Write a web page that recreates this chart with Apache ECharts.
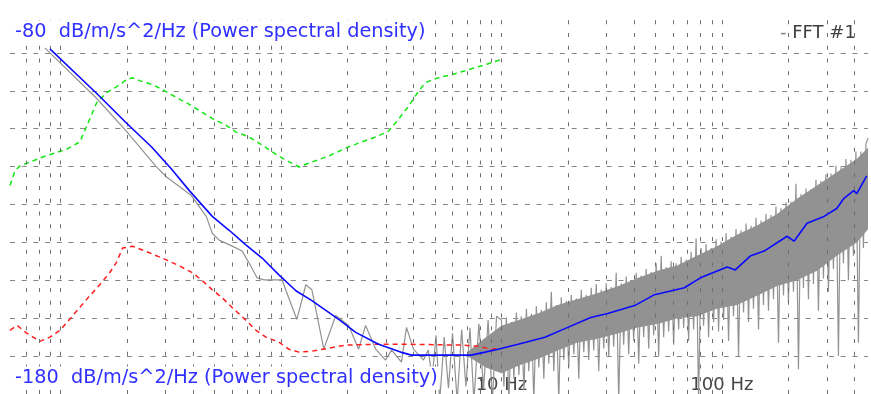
<!DOCTYPE html>
<html><head><meta charset="utf-8">
<script src="https://cdn.jsdelivr.net/npm/echarts@6/dist/echarts.min.js"></script>
<style>html,body{margin:0;padding:0;background:#fff;overflow:hidden}#c{width:871px;height:394px}</style>
</head><body><div id="c"></div>
<script>
// ---- axes / texts ----
const gridFreqs = [0.07,0.08,0.09,0.1,0.2,0.3,0.4,0.5,0.6,0.7,0.8,0.9,1,2,3,4,5,6,7,8,9,10,20,30,40,50,60,70,80,90,100,200,300,400];
const xTickValues = [10, 100];
const xTickLabels = ['10 Hz', '100 Hz'];
const xMin = 0.059, xMax = 460;
const yMin = -180, yMax = -80, yStep = 10;
const yUnit = 'dB/m/s^2/Hz (Power spectral density)';
const seriesName = 'FFT #1';

// ---- FFT #1 (grey) ----
const fftFreq = [
0.0849,0.146,0.1952,0.2723,0.302,0.392,0.4582,0.488,0.5246,0.601,0.6664,0.717,0.779,0.838,1.01,
1.181,1.297,1.381,1.564,1.772,2.028,2.25,2.42,2.69,2.98,3.175,3.52,3.71,3.99,4.43,
4.66,4.85,5.05,5.25,5.5,5.75,6.0,6.3,6.6,6.9,7.2,7.5,7.9,8.3,8.7,9.1,9.5,
10,10.26,10.53,10.81,11.1,11.39,11.69,12.0,12.3,12.65,
12.98,13.3,13.67,14.03,14.4,14.78,15.17,15.57,15.98,16.4,
16.84,17.28,17.74,18.2,18.68,19.18,19.68,20.2,20.74,21.29,
21.85,22.43,23.02,23.63,24.25,24.89,25.55,26.22,26.92,27.63,
28.36,29.11,29.88,30.67,31.48,32.31,33.16,34.04,34.94,35.86,
36.81,37.78,38.78,39.8,40.86,41.94,43.04,44.18,45.35,46.55,
47.78,49.04,50.34,51.67,53.03,54.43,55.87,57.35,58.86,60.42,
62.01,63.65,65.33,67.06,68.83,70.65,72.51,74.43,76.4,78.41,
80.48,82.61,84.79,87.03,89.33,91.69,94.11,96.6,99.15,101.8,
104.5,107.2,110.0,112.9,115.9,119.0,122.1,125.4,128.7,132.1,
135.6,139.1,142.8,146.6,150.5,154.4,158.5,162.7,167.0,171.4,
175.9,180.6,185.4,190.3,195.3,200.4,205.7,211.2,216.8,222.5,
228.4,234.4,240.6,247.0,253.5,260.2,267.1,274.2,281.4,288.8,
296.5,304.3,312.4,320.6,329.1,337.8,346.7,355.9,365.3,375.0,
384.9,395.1,405.5,416.2,427.2,438.5,450.1,460];
const fftDb = [
-88.69,-102.03,-110.13,-120.06,-122.68,-127.65,-133.14,-137.58,-139.41,-140.98,-142.29,-145.43,-149.35,-149.87,-149.87,
-160.33,-151.18,-152.48,-168.17,-159.28,-161.9,-168.17,-161.9,-168.17,-171.05,-168.43,-171.57,-162.42,-168.17,-171.05,
-168.4,-176,-164.5,-182,-165,-178.5,-164,-182,-163,-178,-162.5,-182,-161.5,-178.5,-160.5,-182,-159.5,
-160.5,-178,-159.8,-182,-161,-176,-158.5,-175,-159.5,-179,
-157.5,-174,-158.8,-182,-156.8,-173,-157.8,-176,-155.8,-172,
-153,-174,-156.5,-182,-154.5,-171,-155.5,-173,-153.8,-169.5,
-154.8,-176,-152.5,-169,-153.8,-171,-152,-168.5,-151,-174,
-152.5,-168,-150.8,-170,-151.8,-167.5,-148,-182,-150.8,-167,
-149,-169.5,-150,-166,-148,-172,-148.8,-165,-147,-168,
-147.8,-164.5,-145.5,-170,-143.5,-165,-146.5,-163.5,-145,-167,
-145.5,-163,-143.8,-162.5,-144.5,-166,-142.5,-163,-139,-182,
-141.5,-162,-140.5,-165,-141.5,-161,-139.2,-163.5,-139.8,-160.5,
-137.5,-166,-138.5,-159.5,-136.5,-170,-136.8,-158.5,-135,-161,
-135.6,-157.5,-133.5,-163,-134.2,-156.5,-132.5,-158,-132.8,-155,
-130.5,-166.5,-131,-154,-129.5,-156,-129.2,-153,-124.5,-173.5,
-127.2,-152,-125.8,-155,-126,-151,-123.5,-158,-123.8,-149.5,
-122,-153,-121.8,-147,-119.8,-170,-120.2,-145.5,-118,-150,
-118.2,-143.5,-116,-166.5,-116,-141.5,-114,-112.5];

// core of the noisy band (grey fill)
const bandFreq = [7.0,8.5,10,12,15,18,22,27,34,41,51,63,77,95,117,145,178,219,270,332,409,460];
const bandTop = [-169,-165,-162,-160.5,-158.5,-156.5,-155,-153.5,-151.5,-149.5,-147.5,-146,-143.5,-141,-138,-135.5,-132.5,-128.5,-125,-121.5,-118,-115];
const bandLow = [-170,-173,-174.5,-172.5,-170.5,-168.5,-166.5,-165.5,-164,-162.5,-161.5,-160,-159.5,-157.5,-156.5,-154,-151.5,-150,-147.5,-143.5,-140,-136.5];

// ---- averaged spectrum (blue) ----
const avgFreq = [0.0895,0.146,0.1995,0.259,0.318,0.384,0.488,0.582,0.695,0.821,0.979,1.169,1.381,1.828,2.183,2.772,3.486,3.909,5.176,7.296,8.44,9.66,11.9,15.75,20.0,25.4,30.3,40.2,49.5,67.6,79.9,105.7,115.0,134.4,155.5,197.6,212.5,243.3,290.4,332,357,396,409,454];
const avgDb = [-88.95,-100.72,-108.56,-114.84,-120.59,-126.34,-133.14,-136.80,-140.72,-144.12,-148.56,-152.75,-155.36,-160.33,-163.73,-166.86,-168.95,-169.74,-169.74,-169.74,-168.95,-168.17,-166.86,-165.03,-162.42,-159.80,-158.76,-156.67,-153.79,-151.96,-149.35,-146.47,-147.26,-143.6,-142.29,-138.37,-139.68,-134.97,-133.14,-131.05,-128.43,-126.34,-127.12,-122.42];

// ---- red dashed ----
const redFreq = [0.059,0.0635,0.0705,0.0806,0.0895,0.0993,0.110,0.122,0.1356,0.1506,0.167,0.1797,0.1912,0.212,0.2354,0.2668,0.302,0.346,0.396,0.440,0.488,0.541,0.601,0.695,0.771,0.855,0.979,1.087,1.206,1.381,1.648,1.966,2.58,3.909,6.58,7.85,8.98,9.86];
const redDb = [-163.2,-161.9,-164.0,-166.1,-165.0,-163.2,-160.3,-157.2,-154.1,-151.2,-148.0,-145.2,-141.5,-141.0,-142.0,-143.3,-144.6,-146.2,-148.0,-150.1,-152.5,-154.6,-157.2,-160.6,-163.2,-165.0,-166.3,-168.2,-168.95,-168.7,-167.9,-167.1,-166.9,-166.9,-167.1,-167.4,-168.2,-167.9];

// ---- green dashed ----
const greenFreq = [0.059,0.0622,0.0655,0.0727,0.0832,0.0942,0.1068,0.1223,0.1356,0.146,0.1619,0.1797,0.1995,0.2122,0.2282,0.2613,0.290,0.3354,0.384,0.440,0.488,0.564,0.626,0.717,0.821,0.911,1.032,1.206,1.381,1.648,2.028,2.323,2.688,3.077,3.414,3.787,4.2,4.52,5.176,5.926,6.855,7.85,8.71,9.86];
const greenDb = [-125.0,-121.1,-119.8,-118.8,-117.45,-116.4,-115.4,-113.5,-107.5,-103.1,-100.5,-98.9,-97.06,-96.54,-97.32,-98.37,-99.67,-101.76,-103.6,-105.7,-107.3,-109.1,-110.9,-112.2,-114.3,-116.1,-118.0,-120.1,-118.8,-117.2,-114.8,-113.5,-112.2,-110.65,-107.5,-104.1,-100.2,-97.84,-96.54,-95.75,-94.71,-93.66,-92.88,-91.83];

const pairs = (xs, ys) => xs.map((x, i) => [x, ys[i]]);
const FONT = '"DejaVu Sans", sans-serif';
const GREY = '#929292';
const chart = echarts.init(document.getElementById('c'), null, {renderer: 'canvas'});
chart.setOption({
  animation: false,
  backgroundColor: '#fff',
  grid: {left: 10, right: 0, top: 15, bottom: -3.25},
  xAxis: {
    type: 'log', logBase: 10, min: xMin, max: xMax,
    axisLine: {show: false}, axisTick: {show: false}, splitLine: {show: false},
    axisLabel: {
      inside: true, margin: 0, fontFamily: FONT, fontSize: 18, color: '#464646',
      formatter: v => { const i = xTickValues.findIndex(t => Math.abs(t - v) < 1e-6 * t); return i >= 0 ? xTickLabels[i] : ''; }
    }
  },
  yAxis: {
    type: 'value', min: yMin, max: yMax, interval: yStep,
    axisLine: {show: false}, axisTick: {show: false}, axisLabel: {show: false},
    splitLine: {show: true, showMaxLine: false, showMinLine: false, lineStyle: {color: '#858585', width: 1, type: [5, 6.7]}}
  },
  series: [
    {
      type: 'line', data: [], silent: true, z: 1,
      markLine: {
        silent: true, symbol: ['none', 'none'], label: {show: false}, animation: false,
        lineStyle: {color: '#6e6e6e', width: 1, type: [4, 8.75]},
        emphasis: {disabled: true},
        data: gridFreqs.map(f => ({xAxis: f}))
      }
    },
    {
      type: 'custom', silent: true, z: 2, clip: true,
      data: [[bandFreq[0], bandTop[0]]],
      renderItem: (params, api) => {
        const pts = bandFreq.map((f, i) => api.coord([f, bandTop[i]]));
        for (let i = bandFreq.length - 1; i >= 0; i--) pts.push(api.coord([bandFreq[i], bandLow[i]]));
        return {type: 'polygon', shape: {points: pts}, style: {fill: GREY}};
      }
    },
    {
      name: seriesName, type: 'line', silent: true, z: 3, sampling: null,
      data: pairs(fftFreq, fftDb), symbol: 'none',
      lineStyle: {color: GREY, width: 1.2}
    },
    {
      type: 'line', silent: true, z: 4, data: pairs(greenFreq, greenDb), symbol: 'none',
      lineStyle: {color: '#12e612', width: 1.5, type: [5, 4]}
    },
    {
      type: 'line', silent: true, z: 4, data: pairs(redFreq, redDb), symbol: 'none',
      lineStyle: {color: '#ff1c1c', width: 1.5, type: [5, 4]}
    },
    {
      type: 'line', silent: true, z: 5, data: pairs(avgFreq, avgDb), symbol: 'none',
      lineStyle: {color: '#0a0aff', width: 1.6}
    }
  ],
  graphic: [
    {type: 'text', x: 13, y: 32, z: 100, silent: true,
     style: {text: String(yMax) + '  ' + yUnit, font: '19.3px ' + FONT, fill: '#3030ff', verticalAlign: 'middle', backgroundColor: '#fff', padding: [2, 2]}},
    {type: 'text', x: 13, y: 378, z: 100, silent: true,
     style: {text: String(yMin) + '  ' + yUnit, font: '19.3px ' + FONT, fill: '#3030ff', verticalAlign: 'middle', backgroundColor: '#fff', padding: [2, 2]}},
    {type: 'text', x: 780, y: 33, z: 100, silent: true,
     style: {text: '{d|-} {t|' + seriesName + '}', font: '18px ' + FONT, verticalAlign: 'middle',
             rich: {d: {fill: '#808080', font: '18px ' + FONT}, t: {fill: '#404040', font: '18px ' + FONT}}}}
  ]
});
</script></body></html>
